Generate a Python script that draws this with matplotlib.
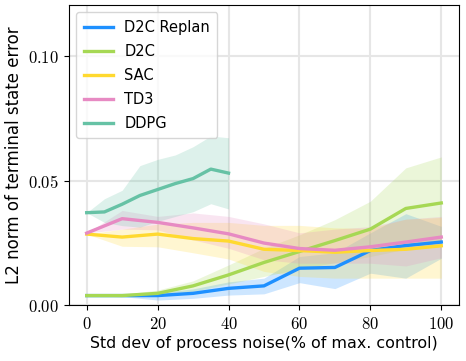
import matplotlib
matplotlib.use("Agg")
import matplotlib.pyplot as plt
import numpy as np
from matplotlib.ticker import FuncFormatter

# noise levels (% of max control)
x_full = [0, 10, 20, 30, 40, 50, 60, 70, 80, 90, 100]
x_ddpg = [0, 5, 10, 15, 20, 25, 30, 35, 40]

d2c_replan = [0.0038, 0.0038, 0.0038, 0.0047, 0.0067, 0.0077, 0.0148, 0.0151, 0.0219, 0.0239, 0.0253]
d2c_replan_lo = [0.0038, 0.0034, 0.0020, 0.0027, 0.0040, 0.0045, 0.0090, 0.0066, 0.0128, 0.0108, 0.0188]
d2c_replan_hi = [0.0038, 0.0042, 0.0050, 0.0065, 0.0093, 0.0108, 0.0195, 0.0210, 0.0290, 0.0367, 0.0316]

d2c = [0.0038, 0.0038, 0.0047, 0.0077, 0.0121, 0.0171, 0.0215, 0.0259, 0.0305, 0.0388, 0.0410]
d2c_lo = [0.0038, 0.0033, 0.0035, 0.0055, 0.0085, 0.0115, 0.0145, 0.0170, 0.0195, 0.0225, 0.0245]
d2c_hi = [0.0038, 0.0043, 0.0060, 0.0097, 0.0161, 0.0228, 0.0282, 0.0343, 0.0417, 0.0551, 0.0595]

sac = [0.0285, 0.0273, 0.0285, 0.0267, 0.0257, 0.0224, 0.0219, 0.0212, 0.0219, 0.0224, 0.0238]
sac_lo = [0.0285, 0.0236, 0.0234, 0.0210, 0.0185, 0.0135, 0.0115, 0.0108, 0.0108, 0.0108, 0.0108]
sac_hi = [0.0285, 0.0305, 0.0325, 0.0332, 0.0332, 0.0320, 0.0320, 0.0310, 0.0308, 0.0345, 0.0352]

td3 = [0.0289, 0.0347, 0.0332, 0.0310, 0.0286, 0.0249, 0.0227, 0.0220, 0.0234, 0.0253, 0.0273]
td3_lo = [0.0289, 0.0305, 0.0302, 0.0262, 0.0228, 0.0182, 0.0168, 0.0168, 0.0168, 0.0157, 0.0190]
td3_hi = [0.0289, 0.0380, 0.0356, 0.0370, 0.0356, 0.0326, 0.0290, 0.0305, 0.0315, 0.0345, 0.0356]

ddpg = [0.0371, 0.0374, 0.0405, 0.0440, 0.0464, 0.0488, 0.0508, 0.0546, 0.0530]
ddpg_lo = [0.0371, 0.0332, 0.0319, 0.0313, 0.0336, 0.0356, 0.0375, 0.0407, 0.0386]
ddpg_hi = [0.0371, 0.0427, 0.0461, 0.0560, 0.0585, 0.0603, 0.0636, 0.0679, 0.0672]

plt.rcParams["mathtext.fontset"] = "cm"
plt.rcParams["font.family"] = "DejaVu Sans"

fig = plt.figure(figsize=(4.66, 3.61), dpi=100)
ax = fig.add_axes([0.148, 0.155, 0.837, 0.831])

series = [
    ("D2C Replan", x_full, d2c_replan, d2c_replan_lo, d2c_replan_hi, "#1e90ff"),
    ("D2C", x_full, d2c, d2c_lo, d2c_hi, "#a6d854"),
    ("SAC", x_full, sac, sac_lo, sac_hi, "#ffd92f"),
    ("TD3", x_full, td3, td3_lo, td3_hi, "#e78ac3"),
    ("DDPG", x_ddpg, ddpg, ddpg_lo, ddpg_hi, "#66c2a5"),
]
for label, xs, m, lo, hi, c in series:
    ax.fill_between(xs, lo, hi, color=c, alpha=0.22, linewidth=0)
    ax.plot(xs, m, color=c, linewidth=2.4, label=label)

ax.set_xlim(-5, 105)
ax.set_ylim(0, 0.1205)
ax.set_xticks([0, 20, 40, 60, 80, 100])
ax.set_yticks([0.0, 0.05, 0.10])
ax.xaxis.set_major_formatter(FuncFormatter(lambda v, p: f"${v:.0f}$"))
ax.yaxis.set_major_formatter(FuncFormatter(lambda v, p: f"${v:.2f}$"))
ax.tick_params(labelsize=12)
ax.grid(True, color="#e6e6e6", linewidth=1.5)
ax.set_axisbelow(True)
ax.set_xlabel("Std dev of process noise(% of max. control)", fontsize=11.4, labelpad=2)
ax.set_ylabel("L2 norm of terminal state error", fontsize=12, labelpad=4)
ax.legend(loc="upper left", fontsize=10.5, handlelength=2.0, labelspacing=0.62,
          borderaxespad=0.5, borderpad=0.5)

fig.savefig("out.png", dpi=100)
